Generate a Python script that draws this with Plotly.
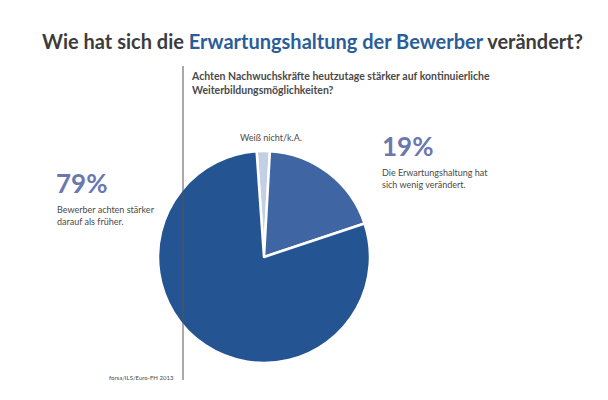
import plotly.graph_objects as go

labels = ["Weiß nicht/k.A.", "Die Erwartungshaltung hat sich wenig verändert.", "Bewerber achten stärker darauf als früher."]
values = [2, 19, 79]
colors = ["#c3cfe3", "#3f66a3", "#245592"]

W, H = 608, 400
def px(x):
    return x / W
def py(y):
    return 1 - y / H

fig = go.Figure(go.Pie(
    labels=labels, values=values, sort=False, direction="clockwise", rotation=-4,
    marker=dict(colors=colors, line=dict(color="white", width=2.5)),
    textinfo="none", hoverinfo="label+percent", showlegend=False,
    domain=dict(x=[px(150), px(362)], y=[py(355), py(143)]),
))

grey = "#4a4a4a"
pct = "#6b78b0"
font = "Lato"
ann = []
ann.append(dict(x=0.5, y=py(33), xanchor="center", yanchor="middle",
                text="<b>Wie hat sich die <span style='color:#2b5e98'>Erwartungshaltung der Bewerber</span> verändert?</b>",
                font=dict(size=20, color="#3c3c3c", family=font)))
ann.append(dict(x=px(181), y=py(60), xanchor="left", yanchor="top", align="left",
                text="<b>Achten Nachwuchskräfte heutzutage stärker auf kontinuierliche<br>Weiterbildungsmöglichkeiten?</b>",
                font=dict(size=10.5, color=grey, family=font)))
ann.append(dict(x=px(46), y=py(175), xanchor="left", yanchor="middle",
                text="<b>79%</b>", font=dict(size=26, color=pct, family=font)))
ann.append(dict(x=px(47), y=py(194), xanchor="left", yanchor="top", align="left",
                text="Bewerber achten stärker<br>darauf als früher.", font=dict(size=9, color=grey, family=font)))
ann.append(dict(x=px(372), y=py(138), xanchor="left", yanchor="middle",
                text="<b>19%</b>", font=dict(size=26, color=pct, family=font)))
ann.append(dict(x=px(372), y=py(157), xanchor="left", yanchor="top", align="left",
                text="Die Erwartungshaltung hat<br>sich wenig verändert.", font=dict(size=9, color=grey, family=font)))
ann.append(dict(x=px(263), y=py(130), xanchor="center", yanchor="middle",
                text="Weiß nicht/k.A.", font=dict(size=9, color=grey, family=font)))
ann.append(dict(x=px(168), y=py(369), xanchor="right", yanchor="middle",
                text="forsa/ILS/Euro-FH 2013", font=dict(size=6, color=grey, family=font)))
for a in ann:
    a.update(xref="paper", yref="paper", showarrow=False)

fig.update_layout(
    width=W, height=H, margin=dict(l=0, r=0, t=0, b=0),
    paper_bgcolor="white", plot_bgcolor="white",
    annotations=ann,
    shapes=[dict(type="line", xref="paper", yref="paper", x0=px(175), x1=px(175),
                 y0=py(58), y1=py(372), line=dict(color="#555555", width=1))],
)
fig.write_html("out.html")
